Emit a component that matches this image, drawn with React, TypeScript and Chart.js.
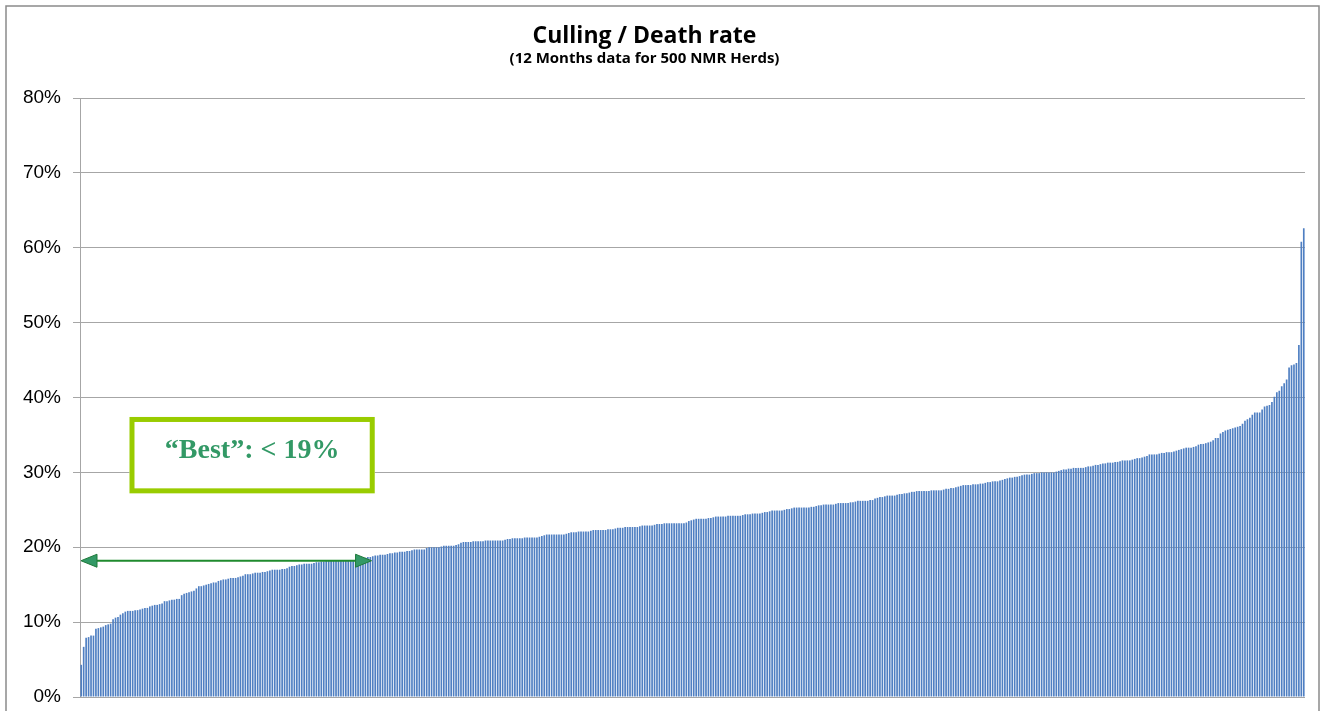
import React, { useEffect, useRef } from 'react';
import { Chart, registerables } from 'chart.js';

Chart.register(...registerables);

const TITLE = 'Culling / Death rate';
const SUBTITLE = '(12 Months data for 500 NMR Herds)';
const ANNOTATION_TEXT = '\u201CBest\u201D: < 19%';

const yTickValues = [0, 10, 20, 30, 40, 50, 60, 70, 80];

// Annotation anchors expressed in data units
const bestArrowLevel = 18.2;
const bestArrowEndIndex = 118.5;
const bestBoxFromIndex = 19.7;
const bestBoxToIndex = 119.8;
const bestBoxTop = 37.4;
const bestBoxBottom = 27.2;

// Culling / death rate (%) per herd, sorted ascending (500 herds)
const cullingRates = [
  4.3, 6.7, 7.9, 8.0, 8.2, 8.2, 9.1, 9.2, 9.3, 9.4,
  9.6, 9.7, 9.8, 10.4, 10.6, 10.7, 11.0, 11.2, 11.4, 11.5,
  11.5, 11.5, 11.6, 11.6, 11.7, 11.8, 11.9, 11.9, 12.1, 12.2,
  12.3, 12.3, 12.4, 12.5, 12.8, 12.8, 12.9, 13.0, 13.0, 13.1,
  13.1, 13.6, 13.8, 13.9, 14.0, 14.1, 14.2, 14.5, 14.8, 14.8,
  14.9, 15.0, 15.1, 15.2, 15.3, 15.3, 15.5, 15.6, 15.7, 15.7,
  15.8, 15.9, 15.9, 15.9, 16.0, 16.1, 16.2, 16.4, 16.4, 16.4,
  16.5, 16.6, 16.6, 16.6, 16.7, 16.7, 16.8, 16.9, 17.0, 17.0,
  17.0, 17.0, 17.1, 17.1, 17.2, 17.4, 17.5, 17.5, 17.6, 17.7,
  17.7, 17.8, 17.8, 17.8, 17.8, 17.9, 18.0, 18.0, 18.1, 18.1,
  18.2, 18.2, 18.3, 18.3, 18.3, 18.3, 18.3, 18.3, 18.3, 18.3,
  18.3, 18.3, 18.3, 18.4, 18.5, 18.5, 18.6, 18.7, 18.7, 18.8,
  18.9, 18.9, 19.0, 19.0, 19.0, 19.1, 19.2, 19.2, 19.3, 19.3,
  19.4, 19.4, 19.4, 19.5, 19.5, 19.6, 19.7, 19.7, 19.7, 19.7,
  19.7, 19.9, 20.0, 20.0, 20.0, 20.0, 20.0, 20.1, 20.2, 20.2,
  20.2, 20.2, 20.2, 20.3, 20.4, 20.6, 20.7, 20.7, 20.7, 20.7,
  20.8, 20.8, 20.8, 20.8, 20.8, 20.9, 20.9, 20.9, 20.9, 20.9,
  20.9, 20.9, 20.9, 21.0, 21.1, 21.1, 21.2, 21.2, 21.2, 21.2,
  21.2, 21.3, 21.3, 21.3, 21.3, 21.3, 21.3, 21.4, 21.5, 21.6,
  21.7, 21.7, 21.7, 21.7, 21.7, 21.7, 21.7, 21.7, 21.8, 21.9,
  22.0, 22.0, 22.0, 22.1, 22.1, 22.1, 22.1, 22.1, 22.2, 22.3,
  22.3, 22.3, 22.3, 22.3, 22.3, 22.4, 22.4, 22.4, 22.5, 22.6,
  22.6, 22.6, 22.7, 22.7, 22.7, 22.7, 22.7, 22.7, 22.8, 22.9,
  22.9, 22.9, 22.9, 22.9, 23.0, 23.1, 23.1, 23.1, 23.2, 23.2,
  23.2, 23.2, 23.2, 23.2, 23.2, 23.2, 23.2, 23.3, 23.5, 23.6,
  23.7, 23.8, 23.8, 23.8, 23.8, 23.8, 23.9, 23.9, 24.0, 24.1,
  24.1, 24.1, 24.1, 24.1, 24.2, 24.2, 24.2, 24.2, 24.2, 24.2,
  24.3, 24.4, 24.4, 24.4, 24.5, 24.5, 24.5, 24.5, 24.6, 24.7,
  24.7, 24.8, 24.9, 24.9, 24.9, 24.9, 24.9, 25.0, 25.1, 25.1,
  25.2, 25.3, 25.3, 25.3, 25.3, 25.3, 25.3, 25.3, 25.4, 25.4,
  25.5, 25.6, 25.6, 25.7, 25.7, 25.7, 25.7, 25.7, 25.8, 25.9,
  25.9, 25.9, 25.9, 25.9, 26.0, 26.0, 26.1, 26.2, 26.2, 26.2,
  26.2, 26.2, 26.3, 26.3, 26.5, 26.6, 26.7, 26.7, 26.8, 26.9,
  26.9, 26.9, 26.9, 27.0, 27.1, 27.1, 27.2, 27.2, 27.3, 27.4,
  27.4, 27.5, 27.5, 27.5, 27.5, 27.5, 27.5, 27.6, 27.6, 27.6,
  27.6, 27.6, 27.7, 27.8, 27.8, 27.9, 27.9, 28.0, 28.1, 28.2,
  28.3, 28.3, 28.3, 28.3, 28.4, 28.4, 28.4, 28.5, 28.5, 28.6,
  28.7, 28.7, 28.8, 28.8, 28.8, 28.9, 29.0, 29.1, 29.2, 29.3,
  29.3, 29.4, 29.4, 29.5, 29.6, 29.7, 29.7, 29.7, 29.8, 29.9,
  29.9, 29.9, 30.0, 30.0, 30.0, 30.0, 30.0, 30.0, 30.1, 30.2,
  30.3, 30.4, 30.4, 30.5, 30.5, 30.6, 30.6, 30.6, 30.6, 30.6,
  30.7, 30.8, 30.8, 30.9, 31.0, 31.0, 31.1, 31.2, 31.2, 31.3,
  31.3, 31.3, 31.4, 31.4, 31.5, 31.6, 31.6, 31.6, 31.6, 31.7,
  31.8, 31.9, 31.9, 32.0, 32.1, 32.2, 32.4, 32.4, 32.4, 32.4,
  32.5, 32.6, 32.6, 32.7, 32.7, 32.7, 32.8, 32.9, 33.0, 33.1,
  33.2, 33.3, 33.3, 33.3, 33.4, 33.5, 33.7, 33.8, 33.8, 33.9,
  34.0, 34.1, 34.3, 34.6, 34.6, 35.2, 35.4, 35.6, 35.7, 35.8,
  35.9, 36.0, 36.1, 36.2, 36.5, 36.9, 37.1, 37.3, 37.7, 38.0,
  38.0, 38.0, 38.4, 38.8, 38.9, 39.0, 39.4, 40.1, 40.7, 40.9,
  41.5, 41.9, 42.4, 44.0, 44.3, 44.4, 44.6, 47.0, 60.8, 62.6,
];

const herdLabels = cullingRates.map((_, i) => `Herd ${i + 1}`);

const decorPlugin = {
  id: 'decor',
  beforeDraw(chart: any) {
    const { ctx, width } = chart;
    ctx.save();
    ctx.fillStyle = '#ffffff';
    ctx.fillRect(0, 0, chart.width, chart.height);
    ctx.strokeStyle = '#8a8a8a';
    ctx.lineWidth = 1.5;
    ctx.strokeRect(6, 6, width - 10, chart.height + 20);
    ctx.fillStyle = '#000000';
    ctx.textAlign = 'center';
    ctx.textBaseline = 'alphabetic';
    const cx = width / 2 - 17;
    ctx.font = 'bold 23px "Open Sans", "Noto Sans", sans-serif';
    ctx.fillText(TITLE, cx, 43);
    ctx.font = 'bold 15px "Open Sans", "Noto Sans", sans-serif';
    ctx.fillText(SUBTITLE, cx, 63);
    ctx.restore();
  },
  afterDraw(chart: any) {
    const { ctx } = chart;
    const xs = chart.scales.x;
    const ys = chart.scales.y;
    ctx.save();
    // Box
    const l = xs.getPixelForValue(bestBoxFromIndex);
    const r = xs.getPixelForValue(bestBoxToIndex);
    const t = ys.getPixelForValue(bestBoxTop);
    const b = ys.getPixelForValue(bestBoxBottom);
    ctx.fillStyle = '#ffffff';
    ctx.fillRect(l, t, r - l, b - t);
    ctx.strokeStyle = '#99cc00';
    ctx.lineWidth = 5;
    ctx.strokeRect(l + 2.5, t + 2.5, r - l - 5, b - t - 5);
    ctx.fillStyle = '#339966';
    ctx.font = 'bold 28px "Liberation Serif", "Times New Roman", serif';
    ctx.textAlign = 'center';
    ctx.textBaseline = 'middle';
    ctx.fillText(ANNOTATION_TEXT, (l + r) / 2, (t + b) / 2 - 4);
    // Arrow
    const ay = ys.getPixelForValue(bestArrowLevel);
    const ax0 = chart.chartArea.left + 1;
    const ax1 = xs.getPixelForValue(bestArrowEndIndex);
    const head = 16;
    const hh = 6.5;
    ctx.strokeStyle = '#1f8a2e';
    ctx.lineWidth = 2;
    ctx.beginPath();
    ctx.moveTo(ax0 + head - 2, ay);
    ctx.lineTo(ax1 - head + 2, ay);
    ctx.stroke();
    ctx.fillStyle = '#339966';
    ctx.lineWidth = 1;
    ctx.strokeStyle = '#1f7a3a';
    ctx.beginPath();
    ctx.moveTo(ax0, ay);
    ctx.lineTo(ax0 + head, ay - hh);
    ctx.lineTo(ax0 + head, ay + hh);
    ctx.closePath();
    ctx.fill();
    ctx.stroke();
    ctx.beginPath();
    ctx.moveTo(ax1, ay);
    ctx.lineTo(ax1 - head, ay - hh);
    ctx.lineTo(ax1 - head, ay + hh);
    ctx.closePath();
    ctx.fill();
    ctx.stroke();
    ctx.restore();
  },
};

export default function App() {
  const canvasRef = useRef<HTMLCanvasElement | null>(null);

  useEffect(() => {
    document.body.style.margin = '0';
    const canvas = canvasRef.current;
    if (!canvas) return;
    const chart = new Chart(canvas, {
      type: 'bar',
      data: {
        labels: herdLabels,
        datasets: [
          {
            label: 'Culling / Death rate',
            data: cullingRates,
            backgroundColor: '#4f7fc2',
            borderWidth: 0,
            barPercentage: 0.68,
            categoryPercentage: 1,
          },
        ],
      },
      options: {
        animation: false,
        responsive: true,
        maintainAspectRatio: false,
        devicePixelRatio: 1,
        layout: { padding: { top: 98, right: 18, bottom: 14, left: 0 } },
        plugins: {
          legend: { display: false },
          title: { display: false },
          tooltip: { enabled: false },
        },
        scales: {
          x: { display: false },
          y: {
            min: 0,
            max: 80,
            afterFit: (s: any) => {
              s.width = 80;
            },
            afterBuildTicks: (s: any) => {
              s.ticks = yTickValues.map((v) => ({ value: v }));
            },
            ticks: {
              callback: (v: any) => `${v}%`,
              color: '#000000',
              font: { family: '"Liberation Sans", Arial, sans-serif', size: 19, lineHeight: 0.2 },
              padding: 12,
            },
            grid: {
              color: '#a6a6a6',
              lineWidth: 1,
              tickLength: 7,
              drawTicks: true,
            },
            border: { color: '#a6a6a6', width: 1 },
          },
        },
      },
      plugins: [decorPlugin],
    });
    return () => chart.destroy();
  }, []);

  return (
    <div style={{ position: 'relative', width: '1323px', height: '711px' }}>
      <canvas ref={canvasRef} />
    </div>
  );
}
